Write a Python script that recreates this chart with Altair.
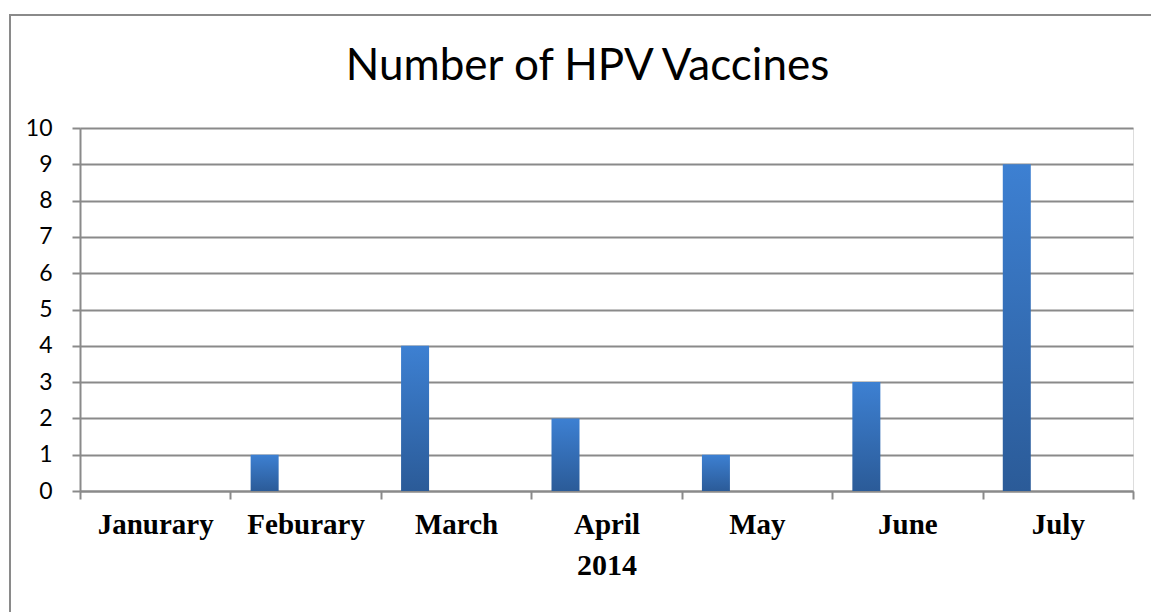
import altair as alt
import pandas as pd

months = ["Janurary", "Feburary", "March", "April", "May", "June", "July"]
counts = [0, 1, 4, 2, 1, 3, 9]
y_ticks = [0, 1, 2, 3, 4, 5, 6, 7, 8, 9, 10]

df = pd.DataFrame({"month": months, "count": counts})

W, H = 1053, 363
GRID = "#8a8a8a"

x_enc = alt.X(
    "month:N",
    sort=months,
    scale=alt.Scale(paddingInner=0, paddingOuter=0),
    axis=alt.Axis(
        title="2014",
        labelAngle=0,
        labelFont="Liberation Serif",
        labelFontWeight="bold",
        labelFontSize=29,
        labelColor="#000000",
        labelPadding=11,
        tickBand="extent",
        tickSize=8,
        tickColor=GRID,
        tickWidth=2,
        domainColor=GRID,
        domainWidth=2,
        titleFont="Liberation Serif",
        titleFontWeight="bold",
        titleFontSize=30,
        titleColor="#000000",
        titlePadding=11,
        grid=False,
    ),
)

bars = alt.Chart(df).mark_bar(
    size=28,
    xOffset=-41,
    color=alt.Gradient(
        gradient="linear",
        stops=[
            alt.GradientStop(color="#3d80d2", offset=0),
            alt.GradientStop(color="#2b5b98", offset=1),
        ],
        x1=0, x2=0, y1=0, y2=1,
    ),
).encode(
    x=x_enc,
    y=alt.Y(
        "count:Q",
        scale=alt.Scale(domain=[0, 10], nice=False),
        axis=alt.Axis(
            title=None,
            values=y_ticks,
            labelFont="Lato",
            labelFontSize=23,
            labelColor="#000000",
            labelPadding=20,
            tickSize=8,
            tickColor=GRID,
            tickWidth=2,
            domainColor=GRID,
            domainWidth=2,
            gridColor=GRID,
            gridWidth=2,
        ),
    ),
)

frame = alt.Chart(df).mark_rect(
    fill=None, stroke="#8a8a8a", strokeWidth=2
).encode(
    x=alt.value(-70), x2=alt.value(1120),
    y=alt.value(-113), y2=alt.value(520),
)

chart = alt.layer(bars, frame).properties(
    width=W,
    height=H,
    title=alt.TitleParams(
        text="Number of HPV Vaccines",
        font="Lato",
        fontSize=44,
        fontWeight="normal",
        color="#000000",
        baseline="alphabetic",
        frame="group",
        offset=-110,
        dx=-19,
    ),
    autosize=alt.AutoSizeParams(type="none"),
    padding={"left": 80, "top": 128, "right": 18, "bottom": 121},
).configure_view(stroke=None).configure(background="white")

chart.save("out.html", embed_options={"renderer": "svg", "actions": False})
